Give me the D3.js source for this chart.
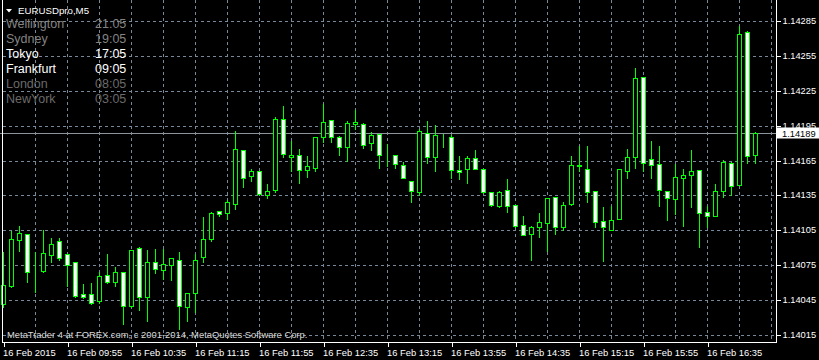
<!DOCTYPE html>
<html>
<head>
<meta charset="utf-8">
<title>EURUSDpro,M5</title>
<script src="https://cdn.jsdelivr.net/npm/d3@7"></script>
<style>
  body { margin: 0; padding: 0; background: #000; }
  svg { display: block; font-family: "Liberation Sans", Arial, sans-serif; }
</style>
</head>
<body>
<svg id="chart" width="819" height="360"></svg>
<script>
// EURUSDpro M5 bars, 16 Feb 09:15 .. 17:05
var opens = [1.14042,1.14057,1.14097,1.14102,1.14070,1.14070,1.14084,1.14096,1.14085,1.14078,
  1.14050,1.14050,1.14044,1.14067,1.14061,1.14069,1.14040,1.14090,1.14048,1.14078,
  1.14071,1.14075,1.14080,1.14039,1.14051,1.14082,1.14098,1.14122,1.14120,1.14128,
  1.14174,1.14152,1.14156,1.14135,1.14140,1.14201,1.14168,1.14170,1.14157,1.14159,
  1.14185,1.14200,1.14185,1.14177,1.14196,1.14196,1.14180,1.14188,1.14170,1.14170,
  1.14161,1.14147,1.14138,1.14189,1.14168,1.14187,1.14185,1.14157,1.14158,1.14167,
  1.14158,1.14138,1.14126,1.14140,1.14127,1.14110,1.14102,1.14108,1.14111,1.14134,
  1.14108,1.14128,1.14160,1.14158,1.14139,1.14113,1.14105,1.14115,1.14156,1.14168,
  1.14237,1.14166,1.14162,1.14139,1.14132,1.14150,1.14153,1.14157,1.14121,1.14117,
  1.14139,1.14163,1.14144,1.14275,1.14170];
var highs = [1.14087,1.14105,1.14110,1.14103,1.14087,1.14106,1.14099,1.14099,1.14086,1.14078,
  1.14060,1.14061,1.14070,1.14086,1.14074,1.14070,1.14088,1.14092,1.14089,1.14090,
  1.14090,1.14081,1.14087,1.14051,1.14086,1.14117,1.14122,1.14122,1.14132,1.14191,
  1.14174,1.14159,1.14156,1.14146,1.14203,1.14213,1.14183,1.14176,1.14170,1.14185,
  1.14214,1.14201,1.14187,1.14200,1.14209,1.14198,1.14190,1.14188,1.14180,1.14170,
  1.14165,1.14147,1.14193,1.14200,1.14196,1.14189,1.14188,1.14170,1.14170,1.14175,
  1.14158,1.14138,1.14140,1.14150,1.14127,1.14118,1.14110,1.14121,1.14133,1.14134,
  1.14130,1.14170,1.14178,1.14178,1.14139,1.14126,1.14127,1.14158,1.14176,1.14245,
  1.14237,1.14183,1.14178,1.14139,1.14163,1.14159,1.14175,1.14157,1.14127,1.14146,
  1.14166,1.14165,1.14281,1.14277,1.14190];
var lows = [1.14039,1.14056,1.14087,1.14061,1.14052,1.14069,1.14078,1.14080,1.14057,1.14048,
  1.14047,1.14042,1.14043,1.14060,1.14057,1.14025,1.14039,1.14037,1.14027,1.14068,
  1.14063,1.14062,1.14020,1.14027,1.14035,1.14078,1.14096,1.14117,1.14115,1.14123,
  1.14142,1.14147,1.14135,1.14133,1.14138,1.14168,1.14156,1.14146,1.14151,1.14156,
  1.14181,1.14181,1.14170,1.14165,1.14192,1.14176,1.14174,1.14159,1.14160,1.14159,
  1.14150,1.14129,1.14135,1.14163,1.14156,1.14177,1.14150,1.14149,1.14146,1.14158,
  1.14137,1.14126,1.14125,1.14121,1.14108,1.14101,1.14080,1.14099,1.14087,1.14102,
  1.14105,1.14127,1.14156,1.14129,1.14108,1.14079,1.14105,1.14115,1.14150,1.14159,
  1.14156,1.14150,1.14126,1.14114,1.14119,1.14109,1.14125,1.14091,1.14108,1.14117,
  1.14134,1.14135,1.14144,1.14163,1.14163];
var closes = [1.14058,1.14098,1.14103,1.14069,1.14070,1.14086,1.14093,1.14081,1.14075,1.14049,
  1.14048,1.14043,1.14066,1.14061,1.14069,1.14040,1.14088,1.14048,1.14078,1.14072,
  1.14076,1.14081,1.14040,1.14051,1.14080,1.14098,1.14120,1.14119,1.14129,1.14175,
  1.14150,1.14156,1.14136,1.14139,1.14201,1.14171,1.14170,1.14157,1.14160,1.14185,
  1.14198,1.14185,1.14177,1.14197,1.14198,1.14178,1.14187,1.14170,1.14170,1.14162,
  1.14150,1.14139,1.14190,1.14168,1.14187,1.14187,1.14157,1.14155,1.14167,1.14158,
  1.14138,1.14127,1.14138,1.14126,1.14109,1.14101,1.14108,1.14112,1.14133,1.14108,
  1.14127,1.14161,1.14161,1.14138,1.14112,1.14108,1.14114,1.14158,1.14168,1.14236,
  1.14163,1.14161,1.14140,1.14133,1.14151,1.14153,1.14156,1.14120,1.14117,1.14139,
  1.14164,1.14143,1.14274,1.14169,1.14189];

var priceTicks = [1.14015,1.14045,1.14075,1.14105,1.14135,1.14165,1.14195,1.14225,1.14255,1.14285];
var timeLabels = ["16 Feb 2015","16 Feb 09:55","16 Feb 10:35","16 Feb 11:15","16 Feb 11:55","16 Feb 12:35",
  "16 Feb 13:15","16 Feb 13:55","16 Feb 14:35","16 Feb 15:15","16 Feb 15:55","16 Feb 16:35"];
var lastPrice = 1.14189;

var cityNames = ["Wellington","Sydney","Tokyo","Frankfurt","London","NewYork"];
var cityTimes = ["21:05","19:05","17:05","09:05","08:05","03:05"];
var cityColors = ["#838383","#838383","#ffffff","#ffffff","#6a6a6a","#6a6a6a"];

var svg = d3.select("#chart");
var W = 819, H = 360;
var left = 2.5, right = 776.5, bottom = 342.5;
var gridColor = "#778899";

svg.append("rect").attr("width", W).attr("height", H).attr("fill", "#000");

// scales
var x = d3.scaleLinear().domain([0, 96]).range([3.5, 771.5]);
var y = d3.scaleLinear().domain([1.14015, 1.14285]).range([335.7, 21.3]);
function crisp(v) { return Math.floor(v) + 0.5; }

svg.append("clipPath").attr("id", "plot")
  .append("rect").attr("x", 0).attr("y", 0).attr("width", right).attr("height", bottom);

// grid
var grid = svg.append("g").attr("stroke", gridColor).attr("stroke-dasharray", "3,3").attr("shape-rendering", "crispEdges");
grid.selectAll("line.h").data(priceTicks).enter().append("line").attr("class", "h")
  .attr("x1", left).attr("x2", right)
  .attr("y1", function (d) { return crisp(y(d)); })
  .attr("y2", function (d) { return crisp(y(d)); });
grid.selectAll("line.v").data(d3.range(4, 97, 4)).enter().append("line").attr("class", "v")
  .attr("x1", function (d) { return x(d); }).attr("x2", function (d) { return x(d); })
  .attr("y1", 0).attr("y2", bottom);

// copyright
svg.append("text").attr("x", 7).attr("y", 338).attr("fill", "#d8d8d8")
  .attr("font-size", "9.4px").text("MetaTrader 4 at FOREX.com, c 2001-2014, MetaQuotes Software Corp.");

// last price line
svg.append("line").attr("x1", 0).attr("x2", right)
  .attr("y1", crisp(y(lastPrice))).attr("y2", crisp(y(lastPrice)))
  .attr("stroke", "#8c949c").attr("shape-rendering", "crispEdges");

// candles
var bars = d3.range(opens.length);
var cg = svg.append("g").attr("clip-path", "url(#plot)").attr("shape-rendering", "crispEdges");
cg.selectAll("line.wick").data(bars).enter().append("line").attr("class", "wick")
  .attr("x1", function (i) { return x(i); }).attr("x2", function (i) { return x(i); })
  .attr("y1", function (i) { return crisp(y(highs[i])); })
  .attr("y2", function (i) { return crisp(y(lows[i])); })
  .attr("stroke", "#00ff00");
cg.selectAll("rect.body").data(bars).enter().append("rect").attr("class", "body")
  .attr("x", function (i) { return x(i) - 2; })
  .attr("width", 4)
  .attr("y", function (i) { return crisp(y(Math.max(opens[i], closes[i]))); })
  .attr("height", function (i) {
    return crisp(y(Math.min(opens[i], closes[i]))) - crisp(y(Math.max(opens[i], closes[i])));
  })
  .attr("fill", function (i) { return closes[i] >= opens[i] ? "#000" : "#fff"; })
  .attr("stroke", "#00ff00");

// frame
var frame = svg.append("g").attr("stroke", "#fff").attr("shape-rendering", "crispEdges");
frame.append("line").attr("x1", left).attr("x2", left).attr("y1", 0).attr("y2", bottom);
frame.append("line").attr("x1", right).attr("x2", right).attr("y1", 0).attr("y2", bottom);
frame.append("line").attr("x1", left).attr("x2", right).attr("y1", bottom).attr("y2", bottom);

// price axis
var yAxis = svg.append("g").attr("transform", "translate(" + right + ",0)")
  .call(d3.axisRight(y).tickValues(priceTicks).tickFormat(d3.format(".5f")).tickSize(4).tickPadding(2));
yAxis.select(".domain").remove();
yAxis.selectAll(".tick").attr("transform", function (d) { return "translate(0," + crisp(y(d)) + ")"; });
yAxis.selectAll("line").attr("stroke", "#fff").attr("shape-rendering", "crispEdges");
yAxis.selectAll("text").attr("fill", "#fff").attr("font-size", "9.3px")
  .attr("font-family", "Liberation Sans, Arial, sans-serif");

// last price tag (covers the lower half of the 1.14195 label, as in MT4)
var tagY = crisp(y(lastPrice));
svg.append("rect").attr("x", 777).attr("y", tagY - 6).attr("width", 42).attr("height", 11).attr("fill", "#fff");
svg.append("text").attr("x", 782).attr("y", tagY + 3.5).attr("fill", "#000").attr("font-size", "9.3px")
  .text(d3.format(".5f")(lastPrice));

// time axis
var xAxis = svg.append("g").attr("transform", "translate(0," + bottom + ")")
  .call(d3.axisBottom(x).tickValues(d3.range(0, 89, 8))
    .tickFormat(function (d, i) { return timeLabels[i]; }).tickSize(4).tickPadding(3));
xAxis.select(".domain").remove();
xAxis.selectAll("line").attr("stroke", "#fff").attr("shape-rendering", "crispEdges");
xAxis.selectAll("text").attr("fill", "#fff").attr("font-size", "9.4px").attr("text-anchor", "start")
  .attr("x", -1).attr("font-family", "Liberation Sans, Arial, sans-serif");

// title
svg.append("path").attr("d", "M6,9L12,9L9,12.5Z").attr("fill", "#fff");
svg.append("text").attr("x", 18).attr("y", 14).attr("fill", "#fff").attr("font-size", "9.7px").text("EURUSDpro,M5");

// world clocks
var clocks = svg.append("g").attr("font-size", "12.5px");
clocks.selectAll("text.city").data(cityNames).enter().append("text").attr("class", "city")
  .attr("x", 6).attr("y", function (d, i) { return 27.5 + 15 * i; })
  .attr("fill", function (d, i) { return cityColors[i]; }).text(function (d) { return d; });
clocks.selectAll("text.time").data(cityTimes).enter().append("text").attr("class", "time")
  .attr("x", 95).attr("y", function (d, i) { return 27.5 + 15 * i; })
  .attr("fill", function (d, i) { return cityColors[i]; }).text(function (d) { return d; });
</script>
</body>
</html>
